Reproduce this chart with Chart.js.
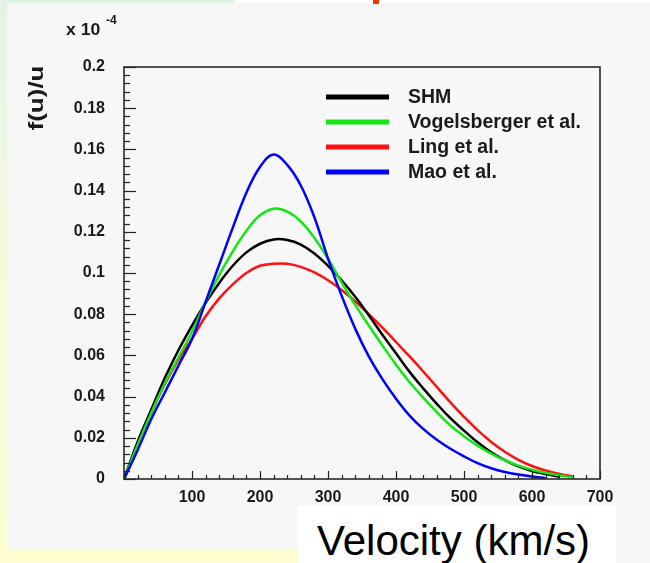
<!DOCTYPE html>
<html>
<head>
<meta charset="utf-8">
<script src="https://cdn.jsdelivr.net/npm/chart.js@4.4.0/dist/chart.umd.min.js"></script>
<style>
    html, body { margin: 0; padding: 0; }
    body {
        width: 650px; height: 563px; position: relative; overflow: hidden;
        background: linear-gradient(to bottom, #e2f4e6 0%, #f4fadc 45%, #fdfdd0 100%);
        font-family: "Liberation Sans", Arial, sans-serif;
    }
    #topWhite { position: absolute; left: 235px; top: 0; width: 415px; height: 3px; background: #fff; }
    #panel { position: absolute; left: 7px; top: 3px; width: 643px; height: 560px; background: #f7f7f7; }
    #bottomStrip { position: absolute; left: 0; top: 549px; width: 298px; height: 14px; background: #fdfdd0; }
    #titleBit { position: absolute; left: 373px; top: 0; width: 6px; height: 4px; background: #ff3300; }
    #xTitle { position: absolute; left: 298px; top: 506px; width: 318px; height: 57px; background: #fff; }
    #xTitle span { position: absolute; left: 19px; top: 14px; font-size: 42px; line-height: 42px; color: #000; white-space: nowrap; }
    #chartWrap { position: absolute; left: 0; top: 0; width: 650px; height: 563px; }
</style>
</head>
<body>
<div id="topWhite"></div>
<div id="panel"></div>
<div id="bottomStrip"></div>
<div id="titleBit"></div>
<div id="xTitle"><span>Velocity (km/s)</span></div>
<div id="chartWrap"><canvas id="velChart" width="650" height="563"></canvas></div>

<script>
// Velocity grid (km/s) and f(u)/u values in units of 1e-4
const velocities = [0, 20, 40, 60, 80, 100, 120, 140, 160, 180, 200, 220, 240, 260, 280, 300, 320,
    340, 360, 380, 400, 420, 440, 460, 480, 500, 520, 540, 560, 580, 600, 620, 640, 660];

const shmValues = [0, 0.018, 0.0336, 0.049, 0.0625, 0.0745, 0.0855, 0.0952, 0.1035, 0.11, 0.1142, 0.1163,
    0.116, 0.1138, 0.1095, 0.1035, 0.0965, 0.0885, 0.0795, 0.070, 0.061, 0.052, 0.044, 0.0365, 0.0295,
    0.0235, 0.0178, 0.013, 0.0092, 0.0061, 0.0039, 0.0024, 0.0011, null];

const vogelsbergerValues = [0, 0.0165, 0.032, 0.0465, 0.059, 0.0715, 0.086, 0.099, 0.1105, 0.1205, 0.128, 0.1312,
    0.1298, 0.125, 0.117, 0.107, 0.0955, 0.0845, 0.0745, 0.0648, 0.0555, 0.047, 0.0395, 0.0325, 0.026,
    0.0208, 0.0162, 0.0123, 0.0091, 0.0065, 0.0045, 0.003, 0.0018, 0.0008];

const lingValues = [0, 0.017, 0.032, 0.046, 0.058, 0.068, 0.079, 0.0877, 0.0945, 0.1, 0.1035, 0.1045,
    0.1045, 0.103, 0.1003, 0.0965, 0.0918, 0.0862, 0.080, 0.0735, 0.0665, 0.0595, 0.0522, 0.0447, 0.0372,
    0.0302, 0.0237, 0.018, 0.0132, 0.0093, 0.0063, 0.0041, 0.0025, 0.0012];

const maoValues = [0, 0.014, 0.029, 0.042, 0.055, 0.068, 0.086, 0.104, 0.122, 0.139, 0.1515, 0.1575,
    0.1525, 0.1425, 0.127, 0.107, 0.089, 0.073, 0.0595, 0.0485, 0.039, 0.0308, 0.0243, 0.019, 0.0147,
    0.011, 0.0077, 0.0052, 0.0034, 0.0022, 0.0012, 0.0004, null, null];

const seriesLabels = ['SHM', 'Vogelsberger et al.', 'Ling et al.', 'Mao et al.'];
const seriesColors = ['#000000', '#14e614', '#ff1010', '#0000ff'];

const xTicksStep = 100;
const yTicksStep = 0.02;

const tickFont = { family: '"Liberation Sans", Arial, sans-serif', size: 16, weight: 'bold' };

function toPoints(values) {
    return velocities.map((v, i) => ({ x: v, y: values[i] }));
}

// ROOT-like frame, inward ticks, legend and axis notes
const rootStylePlugin = {
    id: 'rootStyle',
    afterDatasetsDraw(chart) {
        const ctx = chart.ctx;
        const a = chart.chartArea;
        const xs = chart.scales.x;
        const ys = chart.scales.y;
        ctx.save();
        ctx.strokeStyle = '#222';
        ctx.lineWidth = 1.2;
        const seg = (x1, y1, x2, y2) => { ctx.beginPath(); ctx.moveTo(x1, y1); ctx.lineTo(x2, y2); ctx.stroke(); };

        ys.ticks.forEach((t, i) => {
            const y = Math.round(ys.getPixelForValue(t.value)) + 0.5;
            seg(a.left, y, a.left + 12, y);
            if (i < ys.ticks.length - 1) {
                const step = (ys.ticks[i + 1].value - t.value) / 5;
                for (let k = 1; k < 5; k++) {
                    const yy = Math.round(ys.getPixelForValue(t.value + k * step)) + 0.5;
                    seg(a.left, yy, a.left + 6, yy);
                }
            }
        });
        xs.ticks.forEach((t, i) => {
            const x = Math.round(xs.getPixelForValue(t.value)) + 0.5;
            seg(x, a.bottom, x, a.bottom - 8);
            if (i < xs.ticks.length - 1) {
                const step = (xs.ticks[i + 1].value - t.value) / 5;
                for (let k = 1; k < 5; k++) {
                    const xx = Math.round(xs.getPixelForValue(t.value + k * step)) + 0.5;
                    seg(xx, a.bottom, xx, a.bottom - 4);
                }
            }
        });

        ctx.lineWidth = 1.6;
        ctx.strokeStyle = '#2a2a2a';
        ctx.strokeRect(a.left, a.top, a.right - a.left, a.bottom - a.top);
        ctx.restore();
    },
    afterDraw(chart) {
        const ctx = chart.ctx;
        ctx.save();
        // legend
        const rows = [97, 122, 147, 172];
        chart.data.datasets.forEach((ds, i) => {
            ctx.strokeStyle = ds.borderColor;
            ctx.lineWidth = 5;
            ctx.beginPath();
            ctx.moveTo(326, rows[i]);
            ctx.lineTo(389, rows[i]);
            ctx.stroke();
            ctx.fillStyle = '#1a1a1a';
            ctx.font = 'bold 19.5px "Liberation Sans", Arial, sans-serif';
            ctx.textBaseline = 'middle';
            ctx.textAlign = 'left';
            ctx.fillText(ds.label, 408, rows[i] + 1);
        });

        // exponent note
        ctx.fillStyle = '#1a1a1a';
        ctx.textBaseline = 'alphabetic';
        ctx.save();
        ctx.translate(66, 35);
        ctx.scale(1.1, 1);
        ctx.font = 'bold 16px "Liberation Sans", Arial, sans-serif';
        ctx.fillText('x 10', 0, 0);
        ctx.restore();
        ctx.font = 'bold 12px "Liberation Sans", Arial, sans-serif';
        ctx.fillText('-4', 106, 24);

        // y axis title
        ctx.save();
        ctx.translate(37, 98);
        ctx.rotate(-Math.PI / 2);
        ctx.scale(1.3, 1);
        ctx.font = 'bold 20px "Liberation Sans", Arial, sans-serif';
        ctx.textAlign = 'center';
        ctx.textBaseline = 'middle';
        ctx.fillText('f(u)/u', 0, 0);
        ctx.restore();
        ctx.restore();
    }
};

function initVelocityChart() {
    const ctx = document.getElementById('velChart');
    new Chart(ctx, {
        type: 'line',
        data: {
            datasets: [
                { label: seriesLabels[0], data: toPoints(shmValues), borderColor: seriesColors[0], order: 2 },
                { label: seriesLabels[1], data: toPoints(vogelsbergerValues), borderColor: seriesColors[1], order: 1 },
                { label: seriesLabels[2], data: toPoints(lingValues), borderColor: seriesColors[2], order: 3 },
                { label: seriesLabels[3], data: toPoints(maoValues), borderColor: seriesColors[3], order: 0 }
            ]
        },
        options: {
            responsive: false,
            animation: false,
            layout: { padding: { left: 64, top: 67, right: 50, bottom: 54 } },
            plugins: { legend: { display: false }, tooltip: { enabled: false } },
            elements: {
                point: { radius: 0 },
                line: { borderWidth: 2.5, tension: 0.4, fill: false }
            },
            scales: {
                x: {
                    type: 'linear', min: 0, max: 700,
                    afterFit: s => { s.height = 30; },
                    grid: { display: false }, border: { display: false },
                    ticks: {
                        stepSize: xTicksStep, padding: 1, color: '#1a1a1a', font: tickFont, maxRotation: 0,
                        callback: v => (v === 0 ? '' : String(v))
                    }
                },
                y: {
                    type: 'linear', min: 0, max: 0.2,
                    afterFit: s => { s.width = 60; },
                    grid: { display: false }, border: { display: false },
                    ticks: {
                        stepSize: yTicksStep, padding: 11, color: '#1a1a1a', font: tickFont,
                        callback: v => String(parseFloat(v.toFixed(2)))
                    }
                }
            }
        },
        plugins: [rootStylePlugin]
    });
}

window.addEventListener('DOMContentLoaded', initVelocityChart);
</script>
</body>
</html>
